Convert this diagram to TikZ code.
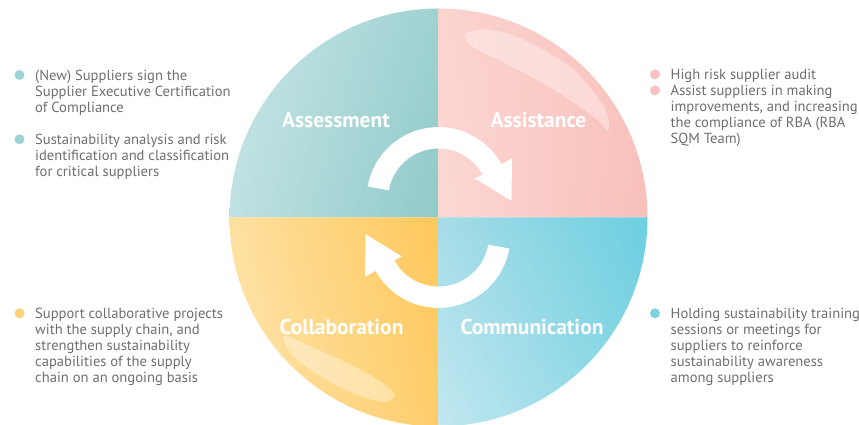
\documentclass[tikz,border=0pt]{standalone}
\usepackage{fontspec}
\setmainfont{PT Sans}
\usetikzlibrary{calc,shadings}
\definecolor{txt}{HTML}{6E6E6E}
\definecolor{bTeal}{HTML}{9FD3D3}
\definecolor{bPink}{HTML}{F7C3BE}
\definecolor{bYel}{HTML}{FDD37A}
\definecolor{bCyan}{HTML}{7FD3E1}
\definecolor{tlA}{HTML}{C9E6E6}\definecolor{tlB}{HTML}{BFE1E1}\definecolor{tlC}{HTML}{9ED2D1}\definecolor{tlD}{HTML}{8FCAC9}
\definecolor{trA}{HTML}{FBD3CF}\definecolor{trB}{HTML}{FCD8D4}\definecolor{trC}{HTML}{F9C3BE}\definecolor{trD}{HTML}{F8BFBA}
\definecolor{blA}{HTML}{FEE0A0}\definecolor{blB}{HTML}{FEE6B0}\definecolor{blC}{HTML}{FEC85B}\definecolor{blD}{HTML}{FECD6A}
\definecolor{brA}{HTML}{A6DCE7}\definecolor{brB}{HTML}{C2E8F0}\definecolor{brC}{HTML}{6BCFE0}\definecolor{brD}{HTML}{86D6E4}
\tikzset{
  bodytext/.style={text=txt, align=left, inner sep=0pt, font=\fontsize{14.6}{16}\selectfont},
  quadlabel/.style={text=white, inner sep=0pt, font=\fontsize{21.5}{24}\selectfont\bfseries},
  bullet/.style={circle, inner sep=0pt, minimum size=10pt},
  gloss/.style={fill=white, opacity=0.35},
}
\begin{document}
\begin{tikzpicture}[x=1pt,y=1pt]
\useasboundingbox (0,0) rectangle (859,425);
\coordinate (C) at (438.5,207.5);
% quadrants
\shade[upper left=tlA, lower left=tlB, upper right=tlC, lower right=tlD]
  (C) -- ++(180:209) arc[start angle=180,end angle=90,radius=209] -- cycle;
\shade[upper left=trA, lower left=trB, upper right=trC, lower right=trD]
  (C) -- ++(90:209) arc[start angle=90,end angle=0,radius=209] -- cycle;
\shade[upper left=blA, lower left=blB, upper right=blC, lower right=blD]
  (C) -- ++(270:209) arc[start angle=270,end angle=180,radius=209] -- cycle;
\shade[upper left=brA, lower left=brB, upper right=brC, lower right=brD]
  (C) -- ++(0:209) arc[start angle=0,end angle=-90,radius=209] -- cycle;
% gloss highlights
\begin{scope}[shift={(C)}]
\fill[gloss] plot[smooth cycle, tension=0.6] coordinates {(81.5:186) (74.6:194.4) (64.5:197) (48.3:200) (33.3:199) (27:190) (31:187) (42:176) (53:169.5) (66:168) (78.6:174)};
\fill[gloss] plot[smooth cycle, tension=0.6] coordinates {(217.6:195) (225:200.5) (239.5:196.3) (252.1:193.6) (256:185) (253.8:177.5) (243.4:171) (225.7:181)};
\end{scope}
% cycle arrows
\coordinate (UA) at (438.5,226);
\coordinate (LA) at (438.5,189);
\fill[white] ($(UA)+(170:71.9)$) arc[start angle=170,end angle=29,radius=71.9]
  -- ($(UA)+(29:84)$) -- ($(UA)+(29:63)+(-61:37)$) -- ($(UA)+(29:42)$)
  -- ($(UA)+(29:50.5)$) arc[start angle=29,end angle=170,radius=50.5] -- cycle;
\fill[white] ($(LA)+(-10:71.9)$) arc[start angle=-10,end angle=-151,radius=71.9]
  -- ($(LA)+(-151:84)$) -- ($(LA)+(-151:63)+(119:37)$) -- ($(LA)+(-151:42)$)
  -- ($(LA)+(-151:50.5)$) arc[start angle=-151,end angle=-10,radius=50.5] -- cycle;
% quadrant labels
\node[quadlabel, anchor=base] (assess) at (336,297.3) {Assessment};
\node[quadlabel, anchor=base] (assist) at (538.5,297.3) {Assistance};
\node[quadlabel, anchor=base] (collab) at (341.5,90) {Collaboration};
\node[quadlabel, anchor=base] (comm) at (532,90) {Communication};
% left texts (base anchor = last line baseline)
\node[bullet, fill=bTeal] (b1) at (19.5,350) {};
\node[bodytext, anchor=base west] (t1) at (35,312.3) {(New) Suppliers sign the\\Supplier Executive Certification\\of Compliance};
\node[bullet, fill=bTeal] (b2) at (19.5,285.7) {};
\node[bodytext, anchor=base west] (t2) at (35,248) {Sustainability analysis and risk\\identification and classification\\for critical suppliers};
\node[bullet, fill=bYel] (b3) at (19.5,111.7) {};
\node[bodytext, anchor=base west] (t3) at (35,42) {Support collaborative projects\\with the supply chain, and\\strengthen sustainability\\capabilities of the supply\\chain on an ongoing basis};
% right texts
\node[bullet, fill=bPink] (b4) at (655,350.7) {};
\node[bullet, fill=bPink] (b5) at (655,334.7) {};
\node[bodytext, anchor=base west] (t4) at (670.5,281) {High risk supplier audit\\Assist suppliers in making\\improvements, and increasing\\the compliance of RBA (RBA\\SQM Team)};
\node[bullet, fill=bCyan] (b6) at (655,111.7) {};
\node[bodytext, anchor=base west] (t5) at (670.5,42) {Holding sustainability training\\sessions or meetings for\\suppliers to reinforce\\sustainability awareness\\among suppliers};
\end{tikzpicture}
\end{document}
